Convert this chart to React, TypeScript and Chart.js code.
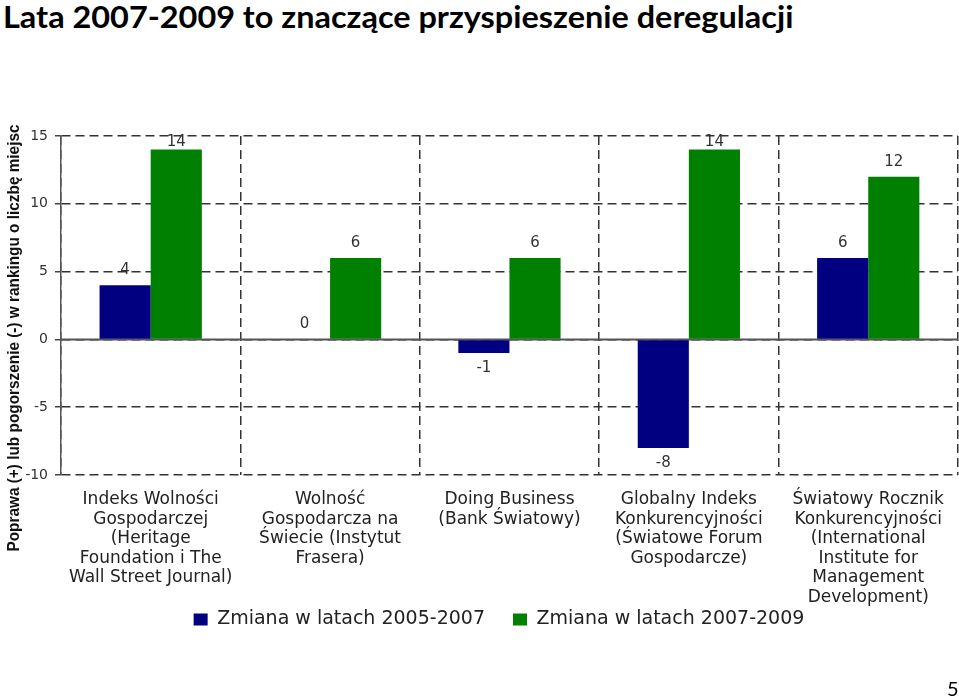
import React, { useEffect, useRef } from 'react';
import { Chart, registerables } from 'chart.js';

Chart.register(...registerables);

const pageTitle = 'Lata 2007-2009 to znaczące przyspieszenie deregulacji';
const yAxisTitle = 'Poprawa (+) lub pogorszenie (-) w rankingu o liczbę miejsc';
const pageNumber = '5';

const categories: string[][] = [
  ['Indeks Wolności', 'Gospodarczej', '(Heritage', 'Foundation i The', 'Wall Street Journal)'],
  ['Wolność', 'Gospodarcza na', 'Świecie (Instytut', 'Frasera)'],
  ['Doing Business', '(Bank Światowy)'],
  ['Globalny Indeks', 'Konkurencyjności', '(Światowe Forum', 'Gospodarcze)'],
  ['Światowy Rocznik', 'Konkurencyjności', '(International', 'Institute for', 'Management', 'Development)'],
];

const seriesNames = ['Zmiana w latach 2005-2007', 'Zmiana w latach 2007-2009'];
const change2005_2007 = [4, 0, -1, -8, 6];
const change2007_2009 = [14, 6, 6, 14, 12];

const yMin = -10;
const yMax = 15;
const yStep = 5;

const NAVY = '#000080';
const GREEN = '#008000';

// widen the clip boxes of the axes so multi-line / left tick labels are not cut
const unclipPlugin = {
  id: 'unclipLabels',
  afterLayout(chart: any) {
    const { x, y } = chart.scales;
    if (x) x.bottom = chart.height;
    if (y) y.left = 0;
  },
};

const zeroLinePlugin = {
  id: 'zeroLine',
  beforeDatasetsDraw(chart: any) {
    const { ctx, chartArea, scales } = chart;
    const y0 = scales.y.getPixelForValue(0);
    ctx.save();
    ctx.strokeStyle = '#555555';
    ctx.lineWidth = 2;
    ctx.setLineDash([]);
    ctx.beginPath();
    ctx.moveTo(chartArea.left, y0);
    ctx.lineTo(chartArea.right, y0);
    ctx.stroke();
    ctx.restore();
  },
};

const valueLabelPlugin = {
  id: 'valueLabels',
  afterDatasetsDraw(chart: any) {
    const { ctx, chartArea } = chart;
    ctx.save();
    ctx.font = '15px "DejaVu Sans"';
    ctx.fillStyle = '#333333';
    ctx.textAlign = 'center';
    ctx.textBaseline = 'middle';
    chart.data.datasets.forEach((ds: any, di: number) => {
      const meta = chart.getDatasetMeta(di);
      meta.data.forEach((bar: any, i: number) => {
        const v = ds.data[i] as number;
        const { x, y } = bar.getProps(['x', 'y'], true);
        let ty = v >= 0 ? y - 15 : y + 15;
        ty = Math.max(ty, chartArea.top + 6);
        ctx.fillText(String(v), x, ty);
      });
    });
    ctx.restore();
  },
};

const yTitlePlugin = {
  id: 'yTitle',
  afterDraw(chart: any) {
    const { ctx } = chart;
    ctx.save();
    ctx.font = 'bold 17px "Liberation Sans"';
    const w = ctx.measureText(yAxisTitle).width;
    ctx.translate(18.5, 338);
    ctx.rotate(-Math.PI / 2);
    ctx.scale(427 / w, 1);
    ctx.fillStyle = '#111111';
    ctx.textAlign = 'center';
    ctx.textBaseline = 'alphabetic';
    ctx.fillText(yAxisTitle, 0, 0);
    ctx.restore();
  },
};

export default function App() {
  const canvasRef = useRef<HTMLCanvasElement | null>(null);
  const titleRef = useRef<HTMLSpanElement | null>(null);

  useEffect(() => {
    if (titleRef.current) {
      const w = titleRef.current.offsetWidth;
      titleRef.current.style.transform = `scaleX(${790 / w})`;
    }
    const canvas = canvasRef.current;
    if (!canvas) return;
    const chart = new Chart(canvas, {
      type: 'bar',
      data: {
        labels: categories,
        datasets: [
          {
            label: seriesNames[0],
            data: change2005_2007,
            backgroundColor: NAVY,
            borderColor: NAVY,
            borderWidth: 0,
            barPercentage: 1,
            categoryPercentage: 0.57,
          },
          {
            label: seriesNames[1],
            data: change2007_2009,
            backgroundColor: GREEN,
            borderColor: GREEN,
            borderWidth: 0,
            barPercentage: 1,
            categoryPercentage: 0.57,
          },
        ],
      },
      options: {
        responsive: false,
        animation: false,
        devicePixelRatio: 1,
        events: [],
        layout: { padding: { left: 40, right: 1, top: 136, bottom: 59 } },
        plugins: {
          tooltip: { enabled: false },
          title: { display: false },
          legend: {
            display: true,
            position: 'bottom',
            labels: {
              boxWidth: 14,
              boxHeight: 12,
              padding: 28,
              color: '#222222',
              font: { family: '"DejaVu Sans"', size: 19 },
            },
          },
        },
        scales: {
          x: {
            grid: {
              offset: true,
              drawTicks: false,
              color: '#333333',
              lineWidth: 1.5,
            },
            border: { display: false, dash: [9, 5] },
            ticks: {
              autoSkip: false,
              maxRotation: 0,
              minRotation: 0,
              padding: 15,
              color: '#222222',
              font: { family: '"DejaVu Sans"', size: 17, lineHeight: 1.15 },
            },
            afterFit(scale: any) {
              scale.height = 107;
            },
          },
          y: {
            min: yMin,
            max: yMax,
            ticks: {
              stepSize: yStep,
              padding: 7,
              color: '#333333',
              font: { family: '"DejaVu Sans"', size: 14 },
            },
            grid: {
              color: '#333333',
              lineWidth: 1.5,
              tickLength: 6,
              tickColor: '#444444',
              tickWidth: 1.5,
              tickBorderDash: [],
            },
            border: { display: true, color: '#555555', width: 1.5, dash: [9, 5] },
            afterFit(scale: any) {
              scale.width = 21;
            },
          },
        },
      },
      plugins: [unclipPlugin, zeroLinePlugin, valueLabelPlugin, yTitlePlugin],
    } as any);
    return () => chart.destroy();
  }, []);

  return (
    <div style={{ position: 'absolute', left: 0, top: 0, width: 959, height: 698, background: '#fff', overflow: 'hidden' }}>
      <div style={{ position: 'absolute', left: 3, top: 0, whiteSpace: 'nowrap' }}>
        <span
          ref={titleRef}
          style={{
            display: 'inline-block',
            fontFamily: 'Lato, "Liberation Sans", sans-serif',
            fontWeight: 700,
            fontSize: 30,
            lineHeight: '32px',
            color: '#000',
            transformOrigin: 'left top',
          }}
        >
          {pageTitle}
        </span>
      </div>
      <canvas
        ref={canvasRef}
        width={959}
        height={698}
        style={{ position: 'absolute', left: 0, top: 0, width: 959, height: 698, display: 'block' }}
      />
      <div
        style={{
          position: 'absolute',
          left: 947,
          top: 678,
          fontFamily: 'Lato, "Liberation Sans", sans-serif',
          fontSize: 20,
          lineHeight: '20px',
          color: '#000',
        }}
      >
        {pageNumber}
      </div>
    </div>
  );
}
